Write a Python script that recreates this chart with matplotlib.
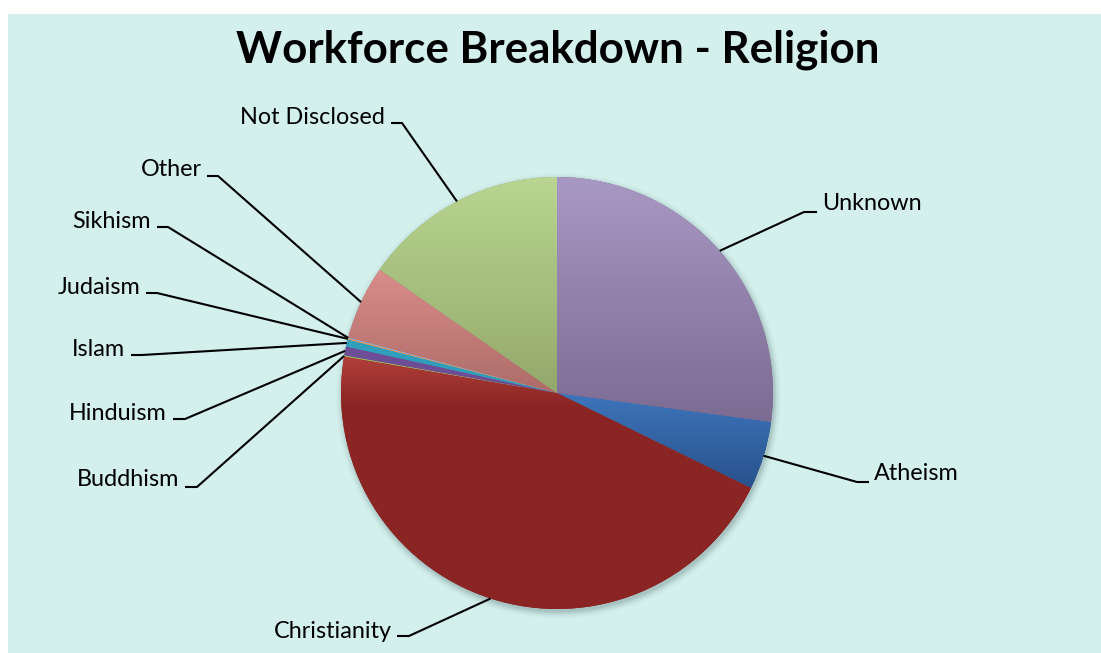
import numpy as np
import matplotlib
matplotlib.use('Agg')
import matplotlib.pyplot as plt
from matplotlib.patches import Rectangle
from matplotlib.colors import to_rgb

# ---------------- data ----------------
labels = ['Atheism', 'Christianity', 'Buddhism', 'Hinduism', 'Islam',
          'Judaism', 'Sikhism', 'Other', 'Not Disclosed', 'Unknown']
shares = [5.11, 45.47, 0.08, 0.67, 0.53, 0.08, 0.08, 5.53, 15.33, 27.14]
title = 'Workforce Breakdown - Religion'

# ---------------- style ----------------
W, H = 1101, 653
BG = '#D3F0ED'
FONT = 'Lato'
# gradient (top colour, t0, bottom colour, t1) in pie-relative vertical coordinate
grad = {
    'Atheism':       ('#3E75BB', 0.50, '#264E87', 0.74),
    'Christianity':  ('#B3403B', 0.41, '#8A2524', 0.53),
    'Buddhism':      ('#9BBB59', 0.0, '#9BBB59', 1.0),
    'Hinduism':      ('#70509A', 0.0, '#6A4A92', 1.0),
    'Islam':         ('#31A4C2', 0.0, '#2C98B4', 1.0),
    'Judaism':       ('#F79646', 0.0, '#F79646', 1.0),
    'Sikhism':       ('#8FA6D4', 0.0, '#8FA6D4', 1.0),
    'Other':         ('#DB8F8C', 0.20, '#AA6965', 0.52),
    'Not Disclosed': ('#B9D591', 0.0, '#92A76A', 0.52),
    'Unknown':       ('#A898C4', 0.0, '#7B6A90', 0.58),
}
# label layout in pixel coords (top-left origin): text x, text y, ha, elbow x, elbow y, seg end x
layout = {
    'Not Disclosed': (385, 117, 'right', 402, 123, 391),
    'Other':         (202, 169, 'right', 218, 176, 207),
    'Sikhism':       (151, 221, 'right', 168, 227, 157),
    'Judaism':       (140, 287, 'right', 157, 293, 146),
    'Islam':         (125, 349, 'right', 142, 355, 131),
    'Hinduism':      (167, 413, 'right', 185, 419, 173),
    'Buddhism':      (179, 480, 'right', 197, 487, 185),
    'Christianity':  (392, 631, 'right', 409, 636, 397),
    'Unknown':       (822, 204, 'left', 804, 212, 817),
    'Atheism':       (874, 474, 'left', 857, 482, 869),
}
CX, CY, R = 557, 393, 216


def P(x, y):
    return x, H - y


fig = plt.figure(figsize=(W / 100, H / 100), dpi=100)
fig.patch.set_facecolor('white')
ax = fig.add_axes([0, 0, 1, 1])
ax.set_xlim(0, W)
ax.set_ylim(0, H)
ax.axis('off')

# background panel
ax.add_patch(Rectangle(P(8, H), W - 8, H - 14, facecolor=BG, edgecolor='none', zorder=0))

# soft shadow
cx, cy = P(CX, CY)
pad = 20
ext = [cx - R - pad, cx + R + pad, cy - R - pad, cy + R + pad]
n = 2 * (R + pad)
xs = np.linspace(ext[0], ext[1], n)
ys = np.linspace(ext[3], ext[2], n)
XX, YY = np.meshgrid(xs, ys)
d = np.hypot(XX - (cx + 1.5), YY - (cy - 3))
alpha = np.clip(1 - (d - R) / 9.0, 0, 1) ** 2 * 0.35
sh = np.zeros((n, n, 4))
sh[..., 0] = 0.35
sh[..., 1] = 0.45
sh[..., 2] = 0.45
sh[..., 3] = alpha
ax.imshow(sh, extent=ext, origin='upper', zorder=1, interpolation='bilinear')

# pie
wedges, _ = ax.pie(shares, startangle=-7.7, counterclock=False, radius=R, center=(cx, cy),
                   wedgeprops=dict(linewidth=0, edgecolor='none'), frame=True)
ax.set_xlim(0, W)
ax.set_ylim(0, H)
ax.set_aspect('auto')

npx = 2 * R
tt = np.linspace(0, 1, npx)
for w, lab in zip(wedges, labels):
    c0, t0, c1, t1 = grad[lab]
    f = np.clip((tt - t0) / max(t1 - t0, 1e-6), 0, 1)[:, None]
    col = (1 - f) * np.array(to_rgb(c0)) + f * np.array(to_rgb(c1))
    img = np.repeat(col[:, None, :], 4, axis=1)
    w.set_facecolor(c1)
    w.set_zorder(2)
    im = ax.imshow(img, extent=[cx - R, cx + R, cy - R, cy + R], origin='upper',
                   zorder=3, interpolation='bilinear', aspect='auto')
    im.set_clip_path(w)
ax.set_xlim(0, W)
ax.set_ylim(0, H)

# font sizes fitted to measured widths
renderer = fig.canvas.get_renderer()
probe = ax.text(0, 0, 'Not Disclosed', fontsize=16, family=FONT)
lab_fs = 16 * 145 / probe.get_window_extent(renderer).width
probe.remove()
probe = ax.text(0, 0, title, fontsize=30, family=FONT, fontweight='bold')
tit_fs = 30 * 643 / probe.get_window_extent(renderer).width
probe.remove()

ax.text(*P(558, 50), title, fontsize=tit_fs, family=FONT, fontweight='bold',
        ha='center', va='center', color='black', zorder=6)

# labels + leader lines
for w, lab in zip(wedges, labels):
    mid = np.deg2rad((w.theta1 + w.theta2) / 2)
    ex, ey = cx + R * np.cos(mid), cy + R * np.sin(mid)
    tx, ty, ha, bx, by, sx = layout[lab]
    ax.plot([ex, P(bx, by)[0], P(sx, by)[0]], [ey, P(bx, by)[1], P(sx, by)[1]],
            color='black', lw=1.5, zorder=5, solid_capstyle='butt')
    ax.text(*P(tx, ty), lab, fontsize=lab_fs, family=FONT, ha=ha, va='center',
            color='black', zorder=6)

fig.savefig('out.png', dpi=100, facecolor=fig.get_facecolor())
